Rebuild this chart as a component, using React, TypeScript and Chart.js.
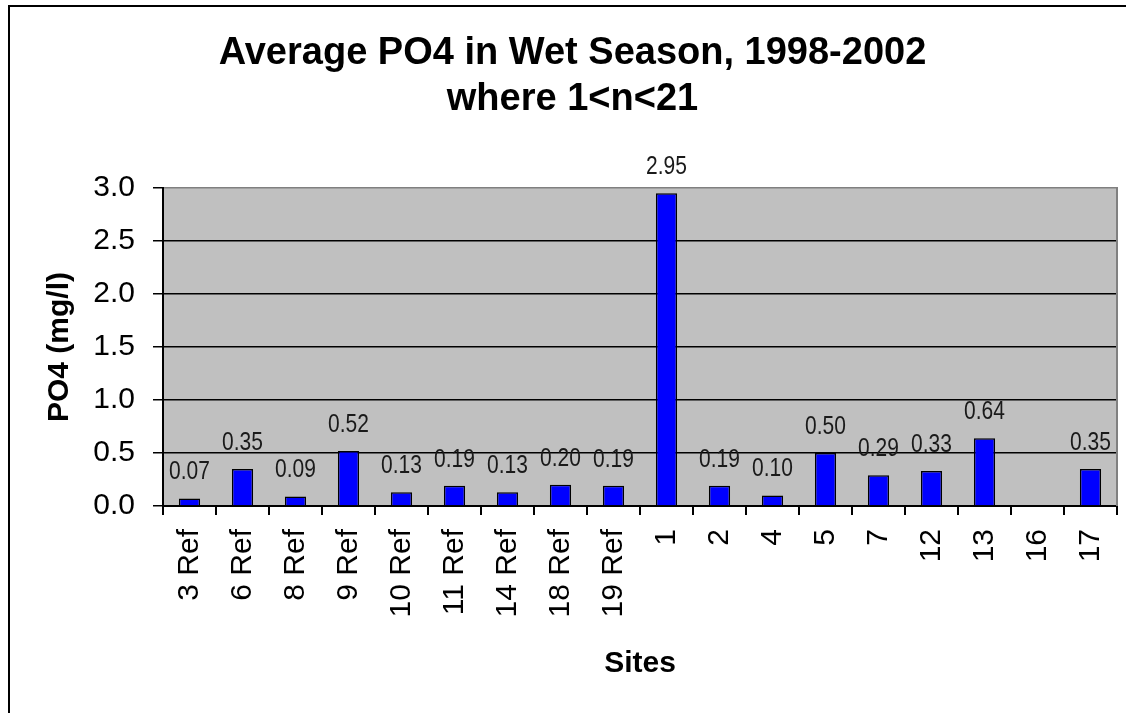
import React, { useEffect, useRef } from "react";
import { Chart, registerables } from "chart.js";

Chart.register(...registerables);

const categories = ["3 Ref", "6 Ref", "8 Ref", "9 Ref", "10 Ref", "11 Ref", "14 Ref", "18 Ref", "19 Ref", "1", "2", "4", "5", "7", "12", "13", "16", "17"];
const po4Values: (number | null)[] = [0.07, 0.35, 0.09, 0.52, 0.13, 0.19, 0.13, 0.2, 0.19, 2.95, 0.19, 0.1, 0.5, 0.29, 0.33, 0.64, null, 0.35];
const titleLines = ["Average PO4 in Wet Season, 1998-2002", "where 1<n<21"];
const yTitle = "PO4 (mg/l)";
const xTitle = "Sites";

const FONT = "'Liberation Sans', Arial, sans-serif";

const framePlugin = {
  id: "frame",
  beforeDraw(chart: any) {
    const { ctx, chartArea } = chart;
    ctx.save();
    ctx.fillStyle = "#ffffff";
    ctx.fillRect(0, 0, chart.width, chart.height);
    ctx.strokeStyle = "#000000";
    ctx.lineWidth = 2;
    ctx.strokeRect(9, 6, chart.width - 18, chart.height + 20);
    ctx.fillStyle = "#C0C0C0";
    ctx.fillRect(chartArea.left, chartArea.top, chartArea.right - chartArea.left, chartArea.bottom - chartArea.top);
    ctx.restore();
  },
  beforeDatasetsDraw(chart: any) {
    const { ctx, chartArea } = chart;
    ctx.save();
    ctx.strokeStyle = "#808080";
    ctx.lineWidth = 2;
    ctx.beginPath();
    ctx.moveTo(chartArea.right, chartArea.top - 1);
    ctx.lineTo(chartArea.right, chartArea.bottom);
    ctx.stroke();
    ctx.restore();
  },
};

const labelPlugin = {
  id: "valueLabels",
  afterDatasetsDraw(chart: any) {
    const { ctx } = chart;
    const meta = chart.getDatasetMeta(0);
    meta.data.forEach((bar: any, i: number) => {
      const v = po4Values[i];
      if (v === null || v === undefined) return;
      ctx.save();
      ctx.font = `25px ${FONT}`;
      ctx.fillStyle = "#1a1a1a";
      ctx.textAlign = "center";
      ctx.textBaseline = "middle";
      ctx.translate(bar.x, bar.y - 26);
      ctx.scale(0.84, 1);
      ctx.fillText(v.toFixed(2), 0, 0);
      ctx.restore();
    });
  },
};

export default function App() {
  const ref = useRef<HTMLCanvasElement | null>(null);
  useEffect(() => {
    if (!ref.current) return;
    const chart = new Chart(ref.current, {
      type: "bar",
      data: {
        labels: categories,
        datasets: [
          {
            data: po4Values as any,
            backgroundColor: "#0000FF",
            borderColor: "#000000",
            borderWidth: 1.5,
            barPercentage: 0.4,
            categoryPercentage: 1,
          },
        ],
      },
      options: {
        responsive: false,
        animation: false,
        layout: { padding: { left: 28, right: 28, top: 0, bottom: 0 } },
        plugins: {
          legend: { display: false },
          tooltip: { enabled: false },
          title: {
            display: true,
            text: titleLines,
            color: "#000000",
            font: { family: FONT, size: 38, weight: "bold", lineHeight: 1.22 },
            padding: { top: 30, bottom: 65.3 },
          },
        },
        scales: {
          x: {
            afterFit(scale: any) {
              scale.height = 207;
            },
            grid: {
              display: true,
              drawOnChartArea: false,
              drawTicks: true,
              tickLength: 9,
              color: "#000000",
              tickColor: "#000000",
              lineWidth: 2,
              offset: true,
            },
            border: { display: true, color: "#000000", width: 2 },
            ticks: {
              autoSkip: false,
              minRotation: 90,
              maxRotation: 90,
              padding: 14,
              color: "#000000",
              font: { family: FONT, size: 30 },
            },
            title: {
              display: true,
              text: xTitle,
              color: "#000000",
              font: { family: FONT, size: 30, weight: "bold", lineHeight: 1.2 },
              padding: { top: 0, bottom: 31 },
            },
          },
          y: {
            min: 0,
            max: 3,
            afterFit(scale: any) {
              scale.width = 135;
            },
            grid: {
              color: (c: any) => (c.tick && c.tick.value === 3 ? "#808080" : "#000000"),
              tickColor: "#000000",
              lineWidth: 1.5,
              tickLength: 10,
              drawTicks: true,
            },
            border: { display: true, color: "#000000", width: 2 },
            ticks: {
              stepSize: 0.5,
              padding: 18,
              color: "#000000",
              font: { family: FONT, size: 30 },
              callback: (v: any) => Number(v).toFixed(1),
            },
            title: {
              display: true,
              text: yTitle,
              color: "#000000",
              font: { family: FONT, size: 30, weight: "bold", lineHeight: 1.2 },
              padding: { top: 14, bottom: 0 },
            },
          },
        },
      },
      plugins: [framePlugin, labelPlugin],
    });
    return () => chart.destroy();
  }, []);
  return (
    <div style={{ position: "fixed", left: 0, top: 0, width: 1126, height: 713, overflow: "hidden", background: "#fff" }}>
      <canvas ref={ref} width={1145} height={713} style={{ display: "block", width: 1145, height: 713 }} />
    </div>
  );
}
